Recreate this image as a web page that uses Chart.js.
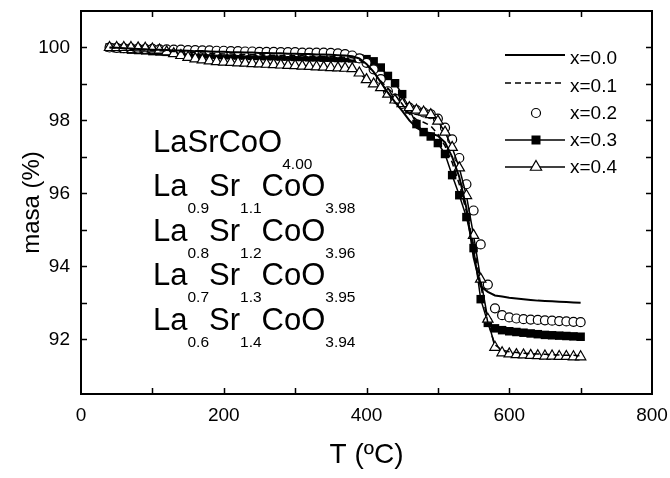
<!DOCTYPE html>
<html><head><meta charset="utf-8">
<script src="https://cdn.jsdelivr.net/npm/chart.js@4/dist/chart.umd.min.js"></script>
<style>html,body{margin:0;padding:0;background:#fff}#wrap{width:670px;height:478px;position:relative}</style>
</head><body><div id="wrap"><canvas id="c" width="670" height="478"></canvas></div>
<script>
// ---- data (T in ºC, mass in %) ----
const temps = [40,50,60,70,80,90,100,110,120,130,
  140,150,160,170,180,190,200,210,220,230,
  240,250,260,270,280,290,300,310,320,330,
  340,350,360,370,380,390,400,410,420,430,
  440,450,460,470,480,490,500,510,520,530,
  540,550,560,570,580,590,600,610,620,630,
  640,650,660,670,680,690,700];

const mass_x00 = [100.00,99.99,99.98,99.97,99.96,99.95,99.94,99.94,99.93,99.92,
  99.92,99.91,99.90,99.90,99.89,99.88,99.88,99.87,99.87,99.86,
  99.86,99.85,99.85,99.84,99.84,99.83,99.83,99.82,99.82,99.81,
  99.81,99.80,99.79,99.78,99.76,99.70,99.55,99.33,99.05,98.76,
  98.50,98.26,98.00,97.80,97.69,97.65,97.58,97.40,97.00,96.45,
  95.60,94.25,93.45,93.30,93.20,93.17,93.14,93.12,93.10,93.08,
  93.06,93.05,93.04,93.03,93.02,93.01,93.00];

const mass_x01 = [100.00,99.98,99.97,99.95,99.94,99.93,99.92,99.91,99.90,99.89,
  99.88,99.87,99.86,99.85,99.84,99.83,99.82,99.82,99.81,99.81,
  99.80,99.80,99.79,99.79,99.78,99.78,99.77,99.77,99.76,99.76,
  99.75,99.75,99.74,99.73,99.72,99.66,99.52,99.32,99.08,98.88,
  98.70,98.45,98.18,98.02,97.95,97.85,97.62,97.30,96.85,96.25,
  95.50,94.60,93.50,92.45,91.85,91.70,91.66,91.64,91.62,91.61,
  91.60,91.59,91.58,91.57,91.56,91.56,91.55];

const mass_x02 = [100.00,99.99,99.98,99.98,99.97,99.96,99.96,99.95,99.95,99.94,
  99.94,99.93,99.93,99.92,99.92,99.91,99.91,99.90,99.90,99.89,
  99.89,99.88,99.88,99.88,99.87,99.87,99.87,99.86,99.86,99.86,
  99.86,99.85,99.84,99.82,99.78,99.70,99.58,99.40,99.13,98.80,
  98.60,98.45,98.35,98.28,98.22,98.17,98.05,97.80,97.48,96.97,
  96.25,95.53,94.60,93.50,92.85,92.66,92.60,92.57,92.55,92.54,
  92.53,92.52,92.51,92.50,92.49,92.48,92.47];

const mass_x03 = [100.00,99.98,99.96,99.94,99.93,99.92,99.90,99.89,99.88,99.87,
  99.85,99.84,99.83,99.82,99.81,99.80,99.79,99.79,99.78,99.78,
  99.77,99.77,99.76,99.76,99.75,99.75,99.74,99.74,99.73,99.73,
  99.72,99.72,99.71,99.71,99.70,99.70,99.68,99.62,99.45,99.22,
  99.02,98.72,98.30,97.90,97.68,97.56,97.38,97.08,96.50,95.95,
  95.35,94.50,93.10,92.45,92.30,92.25,92.22,92.20,92.18,92.16,
  92.14,92.12,92.11,92.10,92.09,92.08,92.07];

const mass_x04 = [100.00,100.00,100.00,100.00,99.99,99.98,99.96,99.93,99.88,99.83,
  99.78,99.73,99.69,99.66,99.63,99.61,99.60,99.59,99.58,99.57,
  99.56,99.55,99.54,99.53,99.52,99.51,99.50,99.49,99.48,99.47,
  99.46,99.45,99.44,99.43,99.42,99.30,99.12,99.00,98.90,98.72,
  98.56,98.46,98.35,98.28,98.23,98.16,97.98,97.68,97.26,96.70,
  95.94,94.85,93.65,92.55,91.78,91.63,91.60,91.58,91.57,91.56,
  91.55,91.54,91.54,91.53,91.53,91.52,91.52];

const seriesLabels = ['x=0.0','x=0.1','x=0.2','x=0.3','x=0.4'];
const xTickLabels = [0,200,400,600,800];
const yTickLabels = [92,94,96,98,100];
const xTitle = 'T (ºC)';
const yTitle = 'masa (%)';
const formulaLines = [
  [['LaSrCoO',0],['4.00',1]],
  [['La',0],['0.9',1],['Sr',0],['1.1',1],['CoO',0],['3.98',1]],
  [['La',0],['0.8',1],['Sr',0],['1.2',1],['CoO',0],['3.96',1]],
  [['La',0],['0.7',1],['Sr',0],['1.3',1],['CoO',0],['3.95',1]],
  [['La',0],['0.6',1],['Sr',0],['1.4',1],['CoO',0],['3.94',1]]
];

const FONT = '"Liberation Sans", Arial, Helvetica, sans-serif';
const toXY = (vals) => temps.map((t, i) => ({x: t, y: vals[i]}));

const datasets = [
  {label: seriesLabels[0], data: toXY(mass_x00), borderColor:'#000', borderWidth:2,
   pointRadius:0, fill:false, tension:0, order:1},
  {label: seriesLabels[1], data: toXY(mass_x01), borderColor:'#000', borderWidth:1.5, borderDash:[6,4],
   pointRadius:0, fill:false, tension:0, order:2},
  {label: seriesLabels[2], data: toXY(mass_x02), showLine:false, borderColor:'#000',
   pointStyle:'circle', pointRadius:4.5, pointBackgroundColor:'#fff', pointBorderColor:'#000', pointBorderWidth:1.2, order:4},
  {label: seriesLabels[3], data: toXY(mass_x03), borderColor:'#000', borderWidth:1.5, tension:0,
   pointStyle:'rect', pointRadius:6, pointBackgroundColor:'#000', pointBorderColor:'#000', pointBorderWidth:0, order:5},
  {label: seriesLabels[4], data: toXY(mass_x04), borderColor:'#000', borderWidth:1.5, tension:0,
   pointStyle:'triangle', pointRadius:6, pointBackgroundColor:'#fff', pointBorderColor:'#000', pointBorderWidth:1.2, order:3}
];

const framePlugin = {
  id: 'frame',
  afterDraw(chart) {
    const {ctx, chartArea: {left, right, top, bottom}, scales: {x, y}} = chart;
    ctx.save();
    ctx.strokeStyle = '#000';
    ctx.lineWidth = 2;
    ctx.strokeRect(left, top, right - left, bottom - top);
    ctx.lineWidth = 1.5;
    const TL = 6;
    ctx.beginPath();
    x.ticks.forEach(t => {
      if (t.value <= x.min || t.value >= x.max) return;
      const px = Math.round(x.getPixelForValue(t.value)) + 0.5;
      ctx.moveTo(px, bottom); ctx.lineTo(px, bottom - TL);
      ctx.moveTo(px, top); ctx.lineTo(px, top + TL);
    });
    y.ticks.forEach(t => {
      if (t.value <= y.min || t.value >= y.max || !Number.isInteger(t.value)) return;
      const py = Math.round(y.getPixelForValue(t.value)) + 0.5;
      ctx.moveTo(left, py); ctx.lineTo(left + TL, py);
      ctx.moveTo(right, py); ctx.lineTo(right - TL, py);
    });
    ctx.stroke();
    ctx.restore();
  }
};

const legendPlugin = {
  id: 'customLegend',
  afterDraw(chart) {
    const ctx = chart.ctx;
    const rowsLine = [55, 83, 113, 140, 167];
    const rowsText = [59, 87, 114, 141, 168];
    const x0 = 505, x1 = 565, xm = 536, xt = 570;
    ctx.save();
    ctx.strokeStyle = '#000'; ctx.fillStyle = '#000';
    ctx.font = '19px ' + FONT;
    ctx.textBaseline = 'middle'; ctx.textAlign = 'left';
    seriesLabels.forEach((lab, i) => {
      const ly = rowsLine[i];
      ctx.setLineDash(i === 1 ? [6,4] : []);
      ctx.lineWidth = i === 0 ? 2 : 1.5;
      if (i !== 2) {
        ctx.beginPath(); ctx.moveTo(x0, ly); ctx.lineTo(x1, ly); ctx.stroke();
      }
      ctx.setLineDash([]);
      ctx.lineWidth = 1.2;
      if (i === 2) {
        ctx.beginPath(); ctx.arc(xm, ly, 4.5, 0, Math.PI * 2);
        ctx.fillStyle = '#fff'; ctx.fill(); ctx.stroke();
      } else if (i === 3) {
        ctx.fillStyle = '#000'; ctx.fillRect(xm - 4.5, ly - 4.5, 9, 9);
      } else if (i === 4) {
        const r = 6.5;
        ctx.beginPath();
        ctx.moveTo(xm, ly - r);
        ctx.lineTo(xm + r * 0.866, ly + r / 2);
        ctx.lineTo(xm - r * 0.866, ly + r / 2);
        ctx.closePath();
        ctx.fillStyle = '#fff'; ctx.fill(); ctx.stroke();
      }
      ctx.fillStyle = '#000';
      ctx.fillText(lab, xt, rowsText[i]);
    });
    ctx.restore();
  }
};

const formulaPlugin = {
  id: 'formulas',
  afterDraw(chart) {
    const ctx = chart.ctx;
    const baselines = [151.5, 196, 240.5, 285, 329.5];
    ctx.save();
    ctx.fillStyle = '#000';
    ctx.textBaseline = 'alphabetic'; ctx.textAlign = 'left';
    formulaLines.forEach((parts, i) => {
      let xx = 153;
      parts.forEach(([txt, sub]) => {
        ctx.font = (sub ? '15.5px ' : '31px ') + FONT;
        ctx.fillText(txt, xx, baselines[i] + (sub ? 17 : 0));
        xx += ctx.measureText(txt).width;
      });
    });
    ctx.restore();
  }
};

new Chart(document.getElementById('c'), {
  type: 'line',
  data: { datasets },
  options: {
    responsive: false,
    animation: false,
    devicePixelRatio: 1,
    layout: { padding: { top: 11, right: 18, left: 0, bottom: 0 } },
    plugins: { legend: { display: false }, tooltip: { enabled: false } },
    scales: {
      x: {
        type: 'linear', min: 0, max: 800,
        afterFit(s) { s.height = 84; s.paddingLeft = 0; s.paddingRight = 0; },
        grid: { display: false, drawTicks: false },
        border: { display: true, color: '#000', width: 2 },
        ticks: {
          stepSize: 100, autoSkip: false, maxRotation: 0, color: '#000', padding: 10,
          font: { family: FONT, size: 19 },
          callback: v => xTickLabels.includes(v) ? String(v) : ''
        },
        title: { display: true, text: xTitle, color: '#000', font: { family: FONT, size: 28 },
          padding: { top: 0, bottom: 6 } }
      },
      y: {
        type: 'linear', min: 90.5, max: 101,
        afterFit(s) { s.width = 81; s.paddingTop = 0; s.paddingBottom = 0; },
        grid: { display: false, drawTicks: false },
        border: { display: true, color: '#000', width: 2 },
        ticks: {
          stepSize: 1, autoSkip: false, color: '#000', padding: 11,
          font: { family: FONT, size: 19 },
          callback: v => yTickLabels.includes(v) ? String(v) : ''
        },
        title: { display: true, text: yTitle, color: '#000', font: { family: FONT, size: 24 },
          padding: { top: 18, bottom: 0 } }
      }
    }
  },
  plugins: [framePlugin, legendPlugin, formulaPlugin]
});
</script>
</body></html>
